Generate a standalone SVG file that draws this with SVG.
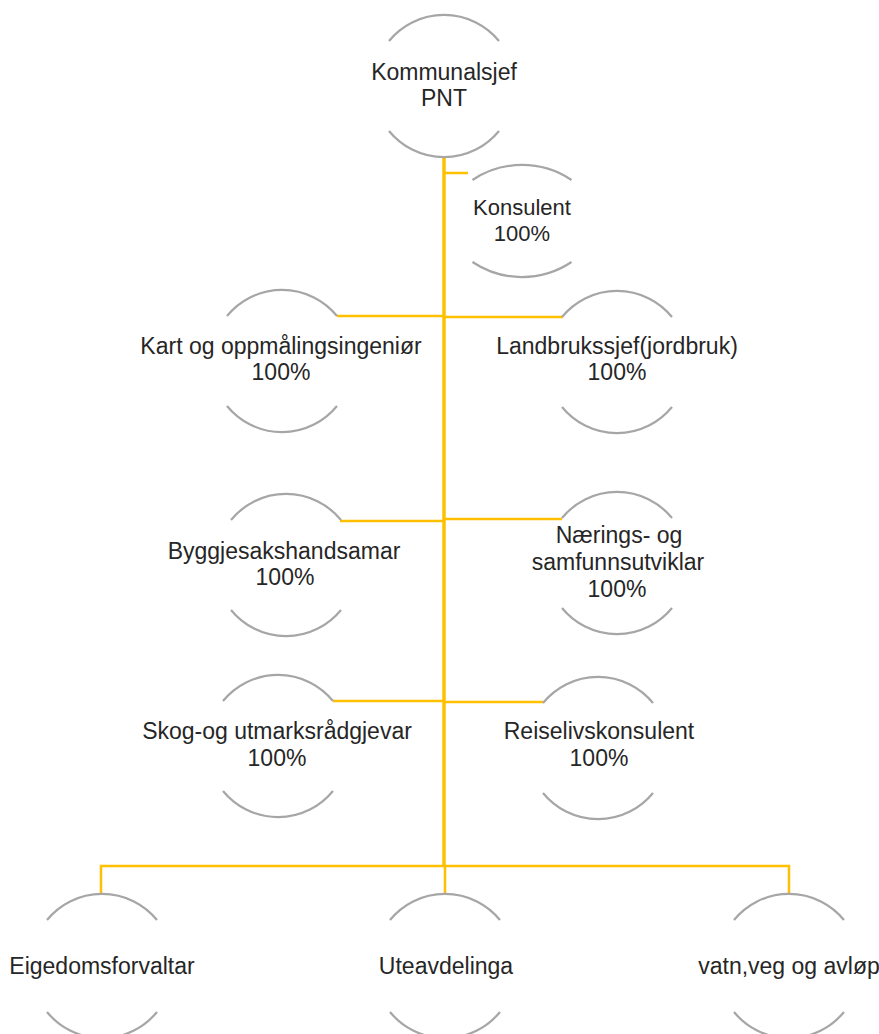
<svg xmlns="http://www.w3.org/2000/svg" width="879" height="1034" viewBox="0 0 879 1034">
<style>
.arc{fill:none;stroke:#A6A6A6;stroke-width:2.2}
.t{font-family:"Liberation Sans",Arial,sans-serif;font-size:23px;fill:#262626;text-anchor:middle}
.c{fill:none;stroke:#FFC000;stroke-width:2.5}
.trunk{fill:none;stroke:#FFC000;stroke-width:3.5}
</style>
<rect width="879" height="1034" fill="#FFFFFF"/>
<g id="connectors">
<path class="trunk" d="M444 157 V866"/>
<path class="c" d="M444 173 H468"/>
<path class="c" d="M337 316 H444 M444 317 H563"/>
<path class="c" d="M340 521 H444 M444 519 H562"/>
<path class="c" d="M333 701 H444 M444 702 H543"/>
<path class="c" d="M101 895 V866 H789 V895 M445 866 V895"/>
</g>
<g id="kommunalsjef">
<path class="arc" d="M389 41 A71 71 0 0 1 499 41 M389 131 A71 71 0 0 0 499 131"/>
<text class="t" x="444" y="80">Kommunalsjef</text>
<text class="t" x="444" y="106">PNT</text>
</g>
<g id="konsulent">
<path class="arc" d="M472.5 180 A89 89 0 0 1 571.5 180 M472.5 262 A89 89 0 0 0 571.5 262"/>
<text class="t" x="522" y="215" style="font-size:22px">Konsulent</text>
<text class="t" x="522" y="241" style="font-size:22px">100%</text>
</g>
<g id="kart">
<path class="arc" d="M227 316 A71 71 0 0 1 337 316 M227 406 A71 71 0 0 0 337 406"/>
<text class="t" x="281" y="354">Kart og oppmålingsingeniør</text>
<text class="t" x="281" y="380">100%</text>
</g>
<g id="landbruk">
<path class="arc" d="M562 317 A71 71 0 0 1 672 317 M562 407 A71 71 0 0 0 672 407"/>
<text class="t" x="617" y="354">Landbrukssjef(jordbruk)</text>
<text class="t" x="617" y="380">100%</text>
</g>
<g id="bygg">
<path class="arc" d="M231 520 A71 71 0 0 1 341 520 M231 610 A71 71 0 0 0 341 610"/>
<text class="t" x="284" y="559">Byggjesakshandsamar</text>
<text class="t" x="285" y="585">100%</text>
</g>
<g id="naering">
<path class="arc" d="M562 518 A71 71 0 0 1 672 518 M562 608 A71 71 0 0 0 672 608"/>
<text class="t" x="619" y="543">Nærings- og</text>
<text class="t" x="618" y="570">samfunnsutviklar</text>
<text class="t" x="617" y="597">100%</text>
</g>
<g id="skog">
<path class="arc" d="M223 701 A71 71 0 0 1 333 701 M223 791 A71 71 0 0 0 333 791"/>
<text class="t" x="277" y="739">Skog-og utmarksrådgjevar</text>
<text class="t" x="277" y="766">100%</text>
</g>
<g id="reiseliv">
<path class="arc" d="M543 703 A71 71 0 0 1 653 703 M543 793 A71 71 0 0 0 653 793"/>
<text class="t" x="599" y="739">Reiselivskonsulent</text>
<text class="t" x="599" y="766">100%</text>
</g>
<g id="eigedom">
<path class="arc" d="M47 920 A71 71 0 0 1 157 920 M47 1012 A71 71 0 0 0 157 1012"/>
<text class="t" x="102" y="974">Eigedomsforvaltar</text>
</g>
<g id="ute">
<path class="arc" d="M390 920 A71 71 0 0 1 500 920 M390 1012 A71 71 0 0 0 500 1012"/>
<text class="t" x="446" y="974">Uteavdelinga</text>
</g>
<g id="vatn">
<path class="arc" d="M734 920 A71 71 0 0 1 844 920 M734 1012 A71 71 0 0 0 844 1012"/>
<text class="t" x="789" y="974">vatn,veg og avløp</text>
</g>
</svg>
